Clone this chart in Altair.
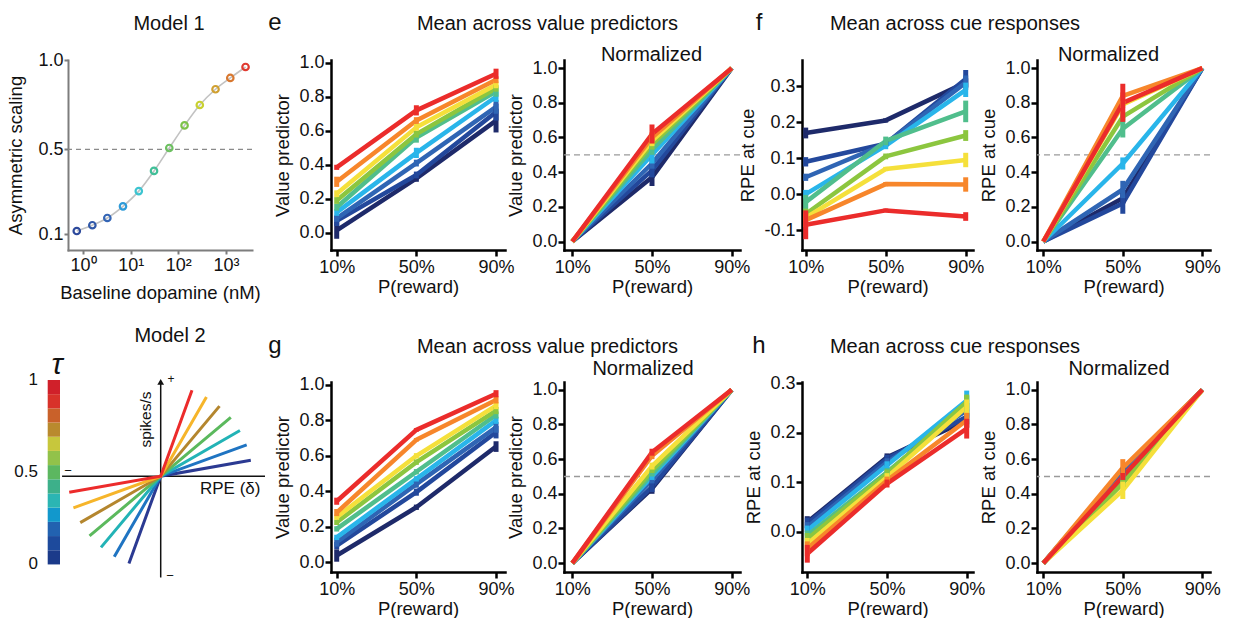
import math
import altair as alt
import pandas as pd

FONT = "Liberation Sans"
INK = "#111111"
PLOT_H = 190

# ---------------- Model 1: asymmetric scaling vs baseline dopamine ----------------
M1_DOPAMINE = [0.74, 1.57, 3.24, 6.9, 14.8, 30.9, 64.6, 135.0, 282.0, 603.0, 1230.0, 2570.0]
M1_SCALING = [0.112, 0.136, 0.167, 0.219, 0.290, 0.389, 0.507, 0.628, 0.741, 0.830, 0.895, 0.959]
M1_COLORS = ["#2d4a9c", "#3058a8", "#3465b5", "#2d9ad8", "#3cc4d0", "#40bf98",
             "#6cc060", "#7dc24a", "#c8d030", "#d0a030", "#d87830", "#e03a30"]
M1_XTICKS = [1, 10, 100, 1000]
M1_YTICKS = [0.1, 0.5, 1.0]

# ---------------- Model 2: tau colour bar and response fan ----------------
CBAR_COLORS = ["#1b3a8a", "#1d4a9c", "#2262b0", "#1298cc", "#2bb5b3", "#3db08a", "#5cb760",
               "#92c24a", "#c7c73c", "#b98a2e", "#c9612a", "#d8322a", "#d0202a"]  # tau 0 -> 1
CBAR_TICKS = [1.0, 0.5, 0.0]
CBAR_LABELS = ["1", "0.5", "0"]
FAN_COLORS = ["#2b3a92", "#1f74c2", "#22b3b6", "#5bb95d", "#b4862e", "#f6b52a", "#ec2b2b"]
FAN_UP_DEG = [10, 20, 30, 40, 50, 60, 70]      # slope angle for positive RPE
FAN_DOWN_DEG = [70, 60, 50, 40, 30, 20, 10]    # slope angle for negative RPE
FAN_UP_LEN = 1.0
FAN_DOWN_LEN = 1.015

# ---------------- shared categories for the reward panels ----------------
P_LEVELS = [10, 50, 90]
SERIES = ["t0", "t1", "t2", "t3", "t4", "t5", "t6", "t7", "t8"]  # low tau -> high tau
SERIES_COLORS = ["#1e2a6a", "#23489c", "#2f65b4", "#29b5ea", "#50be8c",
                 "#8cc63f", "#f5e03b", "#f7862b", "#eb2c2b"]

# e: value predictors (Model 1)
E_V10 = [0.015, 0.07, 0.085, 0.12, 0.15, 0.19, 0.23, 0.30, 0.385]
E_V50 = [0.32, 0.34, 0.41, 0.47, 0.56, 0.58, 0.62, 0.66, 0.72]
E_V90 = [0.66, 0.71, 0.74, 0.80, 0.83, 0.85, 0.87, 0.90, 0.935]
E_SE10 = [0.05, 0.03, 0.02, 0.02, 0.02, 0.02, 0.02, 0.03, 0.015]
E_SE50 = [0.02, 0.02, 0.02, 0.03, 0.03, 0.02, 0.02, 0.02, 0.03]
E_SE90 = [0.07, 0.05, 0.04, 0.03, 0.03, 0.02, 0.02, 0.02, 0.03]
EN_V50 = [0.37, 0.41, 0.45, 0.50, 0.53, 0.56, 0.58, 0.60, 0.62]
EN_SE50 = [0.05, 0.04, 0.03, 0.05, 0.03, 0.03, 0.03, 0.03, 0.055]

# f: RPE at cue (Model 1)
F_V10 = [0.17, 0.09, 0.047, 0.0, -0.022, -0.055, -0.065, -0.072, -0.085]
F_V50 = [0.205, 0.14, 0.14, 0.135, 0.148, 0.105, 0.07, 0.028, -0.045]
F_V90 = [0.31, 0.32, 0.31, 0.29, 0.23, 0.163, 0.095, 0.027, -0.062]
F_SE10 = [0.015, 0.013, 0.01, 0.012, 0.02, 0.015, 0.01, 0.02, 0.04]
F_SE50 = [0.006, 0.006, 0.008, 0.01, 0.012, 0.008, 0.006, 0.006, 0.005]
F_SE90 = [0.012, 0.025, 0.02, 0.02, 0.03, 0.015, 0.02, 0.02, 0.012]
FN_V50 = [0.25, 0.22, 0.30, 0.45, 0.65, 0.72, 0.79, 0.84, 0.80]
FN_SE50 = [0.03, 0.06, 0.05, 0.035, 0.05, 0.02, 0.02, 0.02, 0.11]

# g: value predictors (Model 2)
G_V10 = [0.038, 0.094, 0.113, 0.14, 0.188, 0.225, 0.254, 0.28, 0.344]
G_V50 = [0.31, 0.395, 0.44, 0.47, 0.51, 0.564, 0.60, 0.69, 0.746]
G_V90 = [0.652, 0.733, 0.76, 0.80, 0.83, 0.855, 0.883, 0.915, 0.95]
G_SE10 = [0.035, 0.02, 0.025, 0.015, 0.015, 0.015, 0.015, 0.02, 0.02]
G_SE50 = [0.015, 0.02, 0.02, 0.015, 0.015, 0.015, 0.015, 0.01, 0.01]
G_SE90 = [0.03, 0.035, 0.03, 0.02, 0.02, 0.02, 0.02, 0.02, 0.02]
GN_V50 = [0.43, 0.44, 0.48, 0.50, 0.515, 0.535, 0.56, 0.62, 0.64]
GN_SE50 = [0.03, 0.03, 0.02, 0.02, 0.015, 0.015, 0.02, 0.02, 0.02]

# h: RPE at cue (Model 2)
H_V10 = [0.019, 0.016, 0.009, 0.002, -0.008, -0.015, -0.025, -0.035, -0.045]
H_V50 = [0.15, 0.147, 0.14, 0.134, 0.12, 0.117, 0.11, 0.103, 0.097]
H_V90 = [0.225, 0.232, 0.245, 0.265, 0.255, 0.262, 0.252, 0.225, 0.208]
H_SE10 = [0.012, 0.012, 0.01, 0.01, 0.01, 0.012, 0.012, 0.015, 0.018]
H_SE50 = [0.008, 0.008, 0.008, 0.008, 0.008, 0.008, 0.008, 0.008, 0.008]
H_SE90 = [0.015, 0.015, 0.015, 0.02, 0.02, 0.015, 0.015, 0.015, 0.02]
HN_V50 = [0.53, 0.53, 0.52, 0.50, 0.48, 0.46, 0.42, 0.55, 0.50]
HN_SE50 = [0.02, 0.02, 0.02, 0.02, 0.02, 0.02, 0.05, 0.05, 0.02]

# one-decimal tick labels written with a plain hyphen for negatives
TICK_LABEL = "replace(format(datum.value, '.1f'), '\u2212', '-')"


def note(text, x, y, size=20, align="center", baseline="alphabetic", angle=0, style="normal"):
    """Free-standing text placed in pixels relative to a panel's plot area."""
    return alt.Chart(pd.DataFrame({"t": [text]})).mark_text(
        align=align, baseline=baseline, fontSize=size, font=FONT, color=INK,
        angle=angle, fontStyle=style,
    ).encode(x=alt.value(x), y=alt.value(y), text="t:N")


def long_frame(v10, v50, v90, se10, se50, se90):
    rows = []
    for i, name in enumerate(SERIES):
        for p, v, se in zip(P_LEVELS, (v10[i], v50[i], v90[i]), (se10[i], se50[i], se90[i])):
            rows.append({"s": name, "col": SERIES_COLORS[i], "p": p, "v": v,
                         "lo": v - se, "hi": v + se})
    return pd.DataFrame(rows)


def normalized_frame(v50, se50):
    n = len(SERIES)
    return long_frame([0.0] * n, v50, [1.0] * n, [0.0] * n, se50, [0.0] * n)


def reward_panel(frame, width, x_dom, y_dom, y_ticks, y_title, ref_line=False, notes=()):
    x_scale = alt.Scale(domain=x_dom, nice=False, zero=False)
    y_scale = alt.Scale(domain=y_dom, nice=False, zero=False)
    x_axis = alt.Axis(values=P_LEVELS, labelExpr="datum.value + '%'", labelFlush=False,
                      labelPadding=2, titlePadding=1)
    y_axis = alt.Axis(values=y_ticks, labelExpr=TICK_LABEL, labelPadding=1, titlePadding=6)

    def X(f):
        return alt.X(f, type="quantitative", title="P(reward)", scale=x_scale, axis=x_axis)

    def Y(f):
        return alt.Y(f, type="quantitative", title=y_title, scale=y_scale, axis=y_axis)

    color = alt.Color("col:N", scale=None, legend=None)
    layers = []
    if ref_line:
        layers.append(
            alt.Chart(pd.DataFrame({"v": [0.5]}))
            .mark_rule(color="#9a9a9a", strokeDash=[6, 4], strokeWidth=1.3)
            .encode(y=Y("v"))
        )
    layers.append(
        alt.Chart(frame).mark_line(strokeWidth=4.5, strokeJoin="round")
        .encode(x=X("p"), y=Y("v"), color=color, detail="s:N")
    )
    layers.append(
        alt.Chart(frame).mark_rule(strokeWidth=5)
        .encode(x=X("p"), y=Y("lo"), y2="hi", color=color)
    )
    layers += list(notes)
    return alt.layer(*layers).properties(width=width, height=PLOT_H)


def model1_panel():
    df = pd.DataFrame({"dopamine": M1_DOPAMINE, "scaling": M1_SCALING, "col": M1_COLORS})
    gray = dict(domainColor="#7d7d7d", tickColor="#7d7d7d", domainWidth=2, tickWidth=2, tickSize=4)
    sup = ("datum.value < 5 ? '10\u2070' : datum.value < 50 ? '10\u00b9' : "
           "datum.value < 500 ? '10\u00b2' : '10\u00b3'")
    x = alt.X("dopamine:Q", title="Baseline dopamine (nM)",
              scale=alt.Scale(type="log", domain=[0.4845, 3511], nice=False),
              axis=alt.Axis(values=M1_XTICKS, labelExpr=sup, labelFlush=False,
                            labelPadding=2, titlePadding=9, **gray))
    y = alt.Y("scaling:Q", title="Asymmetric scaling",
              scale=alt.Scale(type="pow", exponent=0.83, domain=[0.0403, 1.0], nice=False, zero=False),
              axis=alt.Axis(values=M1_YTICKS, format=".1f", labelPadding=1, titlePadding=12, **gray))
    half = alt.Chart(pd.DataFrame({"scaling": [0.5]})).mark_rule(
        color="#8a8a8a", strokeDash=[5, 4], strokeWidth=1.3).encode(y=y)
    curve = alt.Chart(df).mark_line(color="#c2c2c2", strokeWidth=1.6, interpolate="monotone").encode(x=x, y=y)
    dots = alt.Chart(df).mark_point(filled=False, size=42, strokeWidth=2.2, opacity=1).encode(
        x=x, y=y, color=alt.Color("col:N", scale=None, legend=None))
    return alt.layer(half, curve, dots, note("Model 1", 101, -30)).properties(width=184, height=PLOT_H)


def tau_bar_panel():
    """Colour bar for tau, occupying the left margin of the second row."""
    tau_scale = alt.Scale(domain=[-0.041, 0.989], nice=False, zero=False)
    n = len(CBAR_COLORS)
    cbar = pd.DataFrame({"lo": [i / n for i in range(n)], "hi": [(i + 1) / n for i in range(n)],
                         "col": CBAR_COLORS})
    bar = alt.Chart(cbar).mark_rect().encode(
        x=alt.value(47.7), x2=alt.value(60),
        y=alt.Y("lo:Q", scale=tau_scale, axis=None), y2="hi:Q",
        color=alt.Color("col:N", scale=None, legend=None))
    bar_text = alt.Chart(pd.DataFrame({"tau": CBAR_TICKS, "lab": CBAR_LABELS})).mark_text(
        align="right", baseline="middle", fontSize=17, font=FONT, color=INK).encode(
        x=alt.value(38), y=alt.Y("tau:Q", scale=tau_scale, axis=None), text="lab:N")
    return alt.layer(
        bar, bar_text, note("\u03c4", 57, -8.5, size=30, style="italic")
    ).properties(width=68, height=PLOT_H)


def fan_panel():
    """Firing rate vs RPE for each tau: steeper positive or negative limb."""
    fx_scale = alt.Scale(domain=[-1.0131, 0.9978], nice=False, zero=False)
    fy_scale = alt.Scale(domain=[-1.047, 1.0295], nice=False, zero=False)
    rows = []
    for k, (up, down) in enumerate(zip(FAN_UP_DEG, FAN_DOWN_DEG)):
        a, b = math.radians(down), math.radians(up)
        for o, (px, py) in enumerate([(-FAN_DOWN_LEN * math.cos(a), -FAN_DOWN_LEN * math.sin(a)),
                                      (0.0, 0.0),
                                      (FAN_UP_LEN * math.cos(b), FAN_UP_LEN * math.sin(b))]):
            rows.append({"g": f"f{k}", "o": o, "fx": px, "fy": py, "col": FAN_COLORS[k]})
    fan = alt.Chart(pd.DataFrame(rows)).mark_line(strokeWidth=3).encode(
        x=alt.X("fx:Q", scale=fx_scale, axis=None),
        y=alt.Y("fy:Q", scale=fy_scale, axis=None),
        color=alt.Color("col:N", scale=None, legend=None), detail="g:N", order="o:Q")

    axes_df = pd.DataFrame({"x1": [-1.078, 0.0], "x2": [1.1399, 0.0],
                            "y1": [0.0, -1.107], "y2": [0.0, 1.03]})
    axes = alt.Chart(axes_df).mark_rule(color="#111111", strokeWidth=1.5).encode(
        x=alt.X("x1:Q", scale=fx_scale, axis=None), x2="x2:Q",
        y=alt.Y("y1:Q", scale=fy_scale, axis=None), y2="y2:Q")
    arrow = alt.Chart(pd.DataFrame({"x1": [0.0], "y1": [1.03]})).mark_point(
        shape="triangle-up", filled=True, size=45, color="#111111", opacity=1).encode(
        x=alt.X("x1:Q", scale=fx_scale, axis=None), y=alt.Y("y1:Q", scale=fy_scale, axis=None))

    layers = [
        axes, fan, arrow,
        note("spikes/s", 78, 37.5, size=15.5, baseline="middle", angle=270),
        note("RPE (\u03b4)", 132, 106.5, size=17, align="left", baseline="middle"),
        note("+", 103, -3, size=12, baseline="middle"),
        note("\u2212", 0, 88.5, size=13, baseline="middle"),
        note("\u2212", 102, 194, size=13, baseline="middle"),
        note("Model 2", 102, -40.5),
    ]
    return alt.layer(*layers).properties(width=184, height=PLOT_H)


def spacer(width, anchor=False):
    top = -59.5 if anchor else 0
    return alt.Chart(pd.DataFrame({"z": [0]})).mark_rect(opacity=0).encode(
        x=alt.value(0), x2=alt.value(1), y=alt.value(top), y2=alt.value(top + 1)
    ).properties(width=width, height=PLOT_H)


NORM_TICKS = [0.0, 0.2, 0.4, 0.6, 0.8, 1.0]

e_left = reward_panel(long_frame(E_V10, E_V50, E_V90, E_SE10, E_SE50, E_SE90), 174,
                      [7.14, 94.5], [-0.101, 1.016], NORM_TICKS, "Value predictor",
                      notes=[note("e", -56, -30.5, size=24),
                             note("Mean across value predictors", 216.5, -30)])
e_right = reward_panel(normalized_frame(EN_V50, EN_SE50), 176,
                       [5.83, 94.17], [-0.049, 1.047], NORM_TICKS, "Value predictor",
                       ref_line=True, notes=[note("Normalized", 87.5, 1)])
f_left = reward_panel(long_frame(F_V10, F_V50, F_V90, F_SE10, F_SE50, F_SE90), 171,
                      [8.15, 93.65], [-0.155, 0.3728], [-0.1, 0.0, 0.1, 0.2, 0.3], "RPE at cue",
                      notes=[note("f", -43, -30.5, size=24),
                             note("Mean across cue responses", 153, -30)])
f_right = reward_panel(normalized_frame(FN_V50, FN_SE50), 173,
                       [6.83, 93.87], [-0.049, 1.047], NORM_TICKS, "RPE at cue",
                       ref_line=True, notes=[note("Normalized", 71.5, 1)])

g_left = reward_panel(long_frame(G_V10, G_V50, G_V90, G_SE10, G_SE50, G_SE90), 174,
                      [7.14, 94.5], [-0.055, 1.016], NORM_TICKS, "Value predictor",
                      notes=[note("g", -56, -29.5, size=24),
                             note("Mean across value predictors", 216.5, -29.5)])
g_right = reward_panel(normalized_frame(GN_V50, GN_SE50), 176,
                       [5.83, 94.17], [-0.051, 1.045], NORM_TICKS, "Value predictor",
                       ref_line=True, notes=[note("Normalized", 79, -7)])
h_left = reward_panel(long_frame(H_V10, H_V50, H_V90, H_SE10, H_SE50, H_SE90), 171,
                      [7.34, 93.16], [-0.0819, 0.3024], [0.0, 0.1, 0.2, 0.3], "RPE at cue",
                      notes=[note("h", -43, -29.5, size=24),
                             note("Mean across cue responses", 153, -29.5)])
h_right = reward_panel(normalized_frame(HN_V50, HN_SE50), 173,
                       [6.83, 93.87], [-0.051, 1.045], NORM_TICKS, "RPE at cue",
                       ref_line=True, notes=[note("Normalized", 82, -7)])

row1 = [spacer(68, anchor=True), model1_panel(), spacer(79), e_left, spacer(59), e_right,
        spacer(62), f_left, spacer(64), f_right]
row2 = [tau_bar_panel(), fan_panel(), spacer(79), g_left, spacer(59), g_right,
        spacer(62), h_left, spacer(64), h_right]

chart = alt.concat(
    *row1, *row2, columns=10, spacing={"row": 132, "column": 0}, align="each", bounds="flush"
).properties(
    padding={"left": 0, "top": 0, "right": 0, "bottom": 0}, background="white"
).configure(font=FONT).configure_view(stroke=None).configure_axis(
    labelFont=FONT, titleFont=FONT, labelFontSize=18, titleFontSize=18.5,
    titleFontWeight="normal", labelColor=INK, titleColor=INK,
    domainColor="#000000", domainWidth=2.5, tickColor="#000000", tickWidth=2.5, tickSize=6,
    grid=False, labelOverlap=False, domainCap="square",
)

chart.save("out.html", embed_options={"renderer": "svg", "actions": False})
